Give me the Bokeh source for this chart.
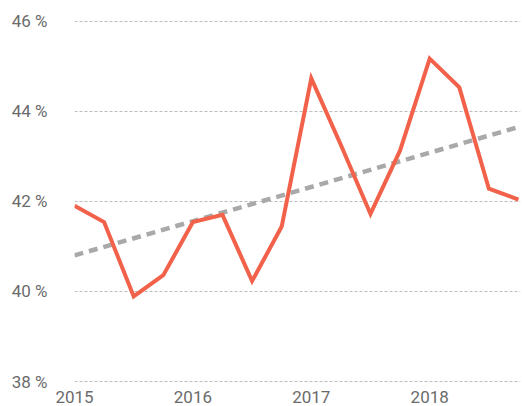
from bokeh.plotting import figure
from bokeh.models import Range1d, FixedTicker
from bokeh.embed import file_html
from bokeh.resources import INLINE

# Data (quarterly share, %)
quarters = [2015.0, 2015.25, 2015.5, 2015.75,
            2016.0, 2016.25, 2016.5, 2016.75,
            2017.0, 2017.25, 2017.5, 2017.75,
            2018.0, 2018.25, 2018.5, 2018.75]
share = [41.90, 41.54, 39.89, 40.36,
         41.54, 41.70, 40.23, 41.44,
         44.73, 43.25, 41.72, 43.13,
         45.17, 44.53, 42.28, 42.04]
trend_x = [2015.0, 2018.75]
trend_y = [40.80, 43.65]

x_ticks = [2015, 2016, 2017, 2018]
x_tick_labels = ["2015", "2016", "2017", "2018"]
y_ticks = [38, 40, 42, 44, 46]
y_tick_labels = ["38 %", "40 %", "42 %", "44 %", "46 %"]

FONT = "Roboto"
TXT = "#6b6b6b"

p = figure(width=522, height=406, output_backend="svg", toolbar_location=None,
           x_range=Range1d(2015.0, 2018.767), y_range=Range1d(37.978, 46.015),
           min_border_left=74, min_border_right=2, min_border_top=20,
           min_border_bottom=24)
p.outline_line_color = None
p.background_fill_color = "white"
p.border_fill_color = "white"

# grid
p.xgrid.grid_line_color = None
p.ygrid.ticker = FixedTicker(ticks=y_ticks)
p.ygrid.grid_line_color = "#bdbdbd"
p.ygrid.grid_line_dash = "3 2"
p.ygrid.grid_line_width = 1

# axes
p.xaxis.ticker = FixedTicker(ticks=x_ticks)
p.xaxis.major_label_overrides = {t: l for t, l in zip(x_ticks, x_tick_labels)}
p.yaxis.ticker = FixedTicker(ticks=y_ticks)
p.yaxis.major_label_overrides = {t: l for t, l in zip(y_ticks, y_tick_labels)}
for ax in (p.xaxis, p.yaxis):
    ax.axis_line_color = None
    ax.major_tick_line_color = None
    ax.minor_tick_line_color = None
    ax.major_tick_in = 0
    ax.major_tick_out = 0
    ax.major_label_text_font = FONT
    ax.major_label_text_font_size = "17px"
    ax.major_label_text_color = TXT
p.xaxis.major_label_standoff = 8
p.yaxis.major_label_standoff = 27

# trend line
p.line(trend_x, trend_y, line_color="#a9a9a9", line_width=4.5, line_dash="9 6")
# series
p.line(quarters, share, line_color="#f2614a", line_width=4, line_join="miter")

open("out.html", "w").write(file_html(p, INLINE))
